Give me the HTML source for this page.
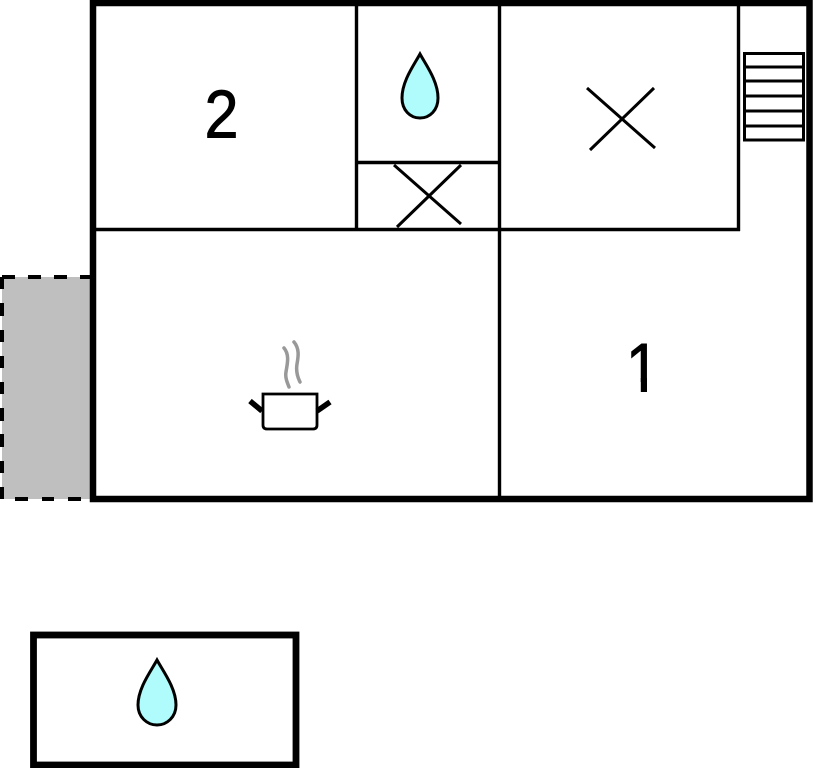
<!DOCTYPE html>
<html>
<head>
<meta charset="utf-8">
<style>
html,body{margin:0;padding:0;background:#fff;width:813px;height:768px;overflow:hidden}
svg{display:block}
text{font-family:"Liberation Sans",sans-serif;fill:#000;stroke:#000;stroke-width:.9px}
</style>
</head>
<body>
<svg width="813" height="768" viewBox="0 0 813 768" xmlns="http://www.w3.org/2000/svg">
<rect width="813" height="768" fill="#fff"/>
<!-- balcony -->
<rect x="2" y="277" width="88" height="222" fill="#bfbfbf"/>
<g stroke="#000" stroke-width="4" fill="none">
<path d="M2 277H15M28 277H41M54 277H67M80 277H90"/>
<path d="M2 277V289M2 303V316M2 330V342M2 356V368M2 382V394M2 408V421M2 434V447M2 461V473M2 487V499"/>
<path d="M15 499H28M42 499H54M68 499H81"/>
</g>
<!-- outer wall -->
<rect x="93" y="3" width="716.500" height="496" fill="none" stroke="#000" stroke-width="6.500"/>
<!-- inner walls -->
<g stroke="#000" stroke-width="3.400" fill="none">
<path d="M356.500 5V229"/>
<path d="M499.500 5V497"/>
<path d="M95 229.500H740"/>
<path d="M357 162.500H499"/>
<path d="M738.500 5V231"/>
</g>
<!-- stairs -->
<g stroke="#000" stroke-width="3" fill="none">
<rect x="744.500" y="53.500" width="59" height="86.500"/>
<path d="M744 67H804M744 81H804M744 96H804M744 111H804M744 126H804"/>
</g>
<!-- crosses -->
<g stroke="#000" stroke-width="3" fill="none">
<path d="M587 88L655 148M654 88L590 150"/>
<path d="M394 165L461 224M461 165L397 227"/>
</g>
<!-- drops -->
<path d="M420 54C414 65 402 81 402 98C402 110 410 118 420 118C430 118 438 110 438 98C438 81 426 65 420 54Z" fill="#b0fbfb" stroke="#000" stroke-width="3"/>
<path d="M157 660C151 671 138 688 138 705C138 717 147 725 157 725C167 725 176 717 176 705C176 688 163 671 157 660Z" fill="#b0fbfb" stroke="#000" stroke-width="3"/>
<!-- labels -->
<text transform="translate(221.500 137.500) scale(.9 1)" font-size="68" text-anchor="middle">2</text>
<text transform="translate(642.800 392) scale(.9 1.03)" font-size="68" text-anchor="middle">1</text>
<!-- hide the serif foot of the digit, reference 1 has a plain stem -->
<rect x="620" y="382" width="46" height="13" fill="#fff"/>
<rect x="640.800" y="378" width="6.200" height="14" fill="#000"/>
<!-- pot -->
<g fill="none" stroke="#000">
<path d="M263 394H317V425Q317 429 313 429H267Q263 429 263 425Z" stroke-width="2.800" fill="#fff"/>
<path d="M250 401L262 411M330 402L317 411" stroke-width="5.500"/>
</g>
<g fill="none" stroke="#999" stroke-width="3.500" stroke-linecap="round">
<path d="M284 348C290 355 287 365 286 372C285 377 287 382 289 387"/>
<path d="M294 342C300 349 298 358 297 364C296 370 297 376 300 382"/>
</g>
<!-- annex -->
<rect x="33.500" y="635" width="262.500" height="130" fill="none" stroke="#000" stroke-width="6.800"/>
</svg>
</body>
</html>
